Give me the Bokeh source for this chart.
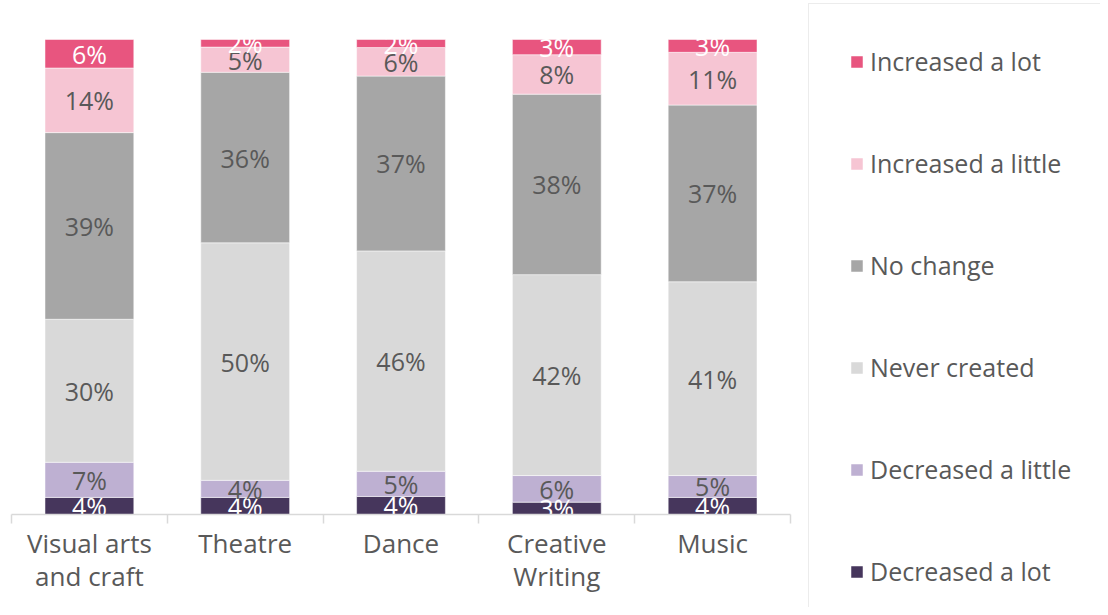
from bokeh.plotting import figure
from bokeh.models import ColumnDataSource, FixedTicker, Legend, LegendItem, Range1d
from bokeh.embed import file_html
from bokeh.resources import INLINE
from bokeh.core.properties import value

categories = ["Visual arts\nand craft", "Theatre", "Dance", "Creative\nWriting", "Music"]
series = ["Decreased a lot", "Decreased a little", "Never created",
          "No change", "Increased a little", "Increased a lot"]
decreased_a_lot = [3.6, 3.6, 3.8, 2.6, 3.6]
decreased_a_little = [7.4, 3.6, 5.3, 5.6, 4.6]
never_created = [30.1, 50.0, 46.4, 42.3, 40.8]
no_change = [39.3, 35.9, 36.8, 38.0, 37.2]
increased_a_little = [13.6, 5.3, 6.0, 8.3, 11.1]
increased_a_lot = [6.0, 1.6, 1.7, 3.2, 2.7]

colors = ["#46365C", "#BEB0D2", "#D9D9D9", "#A6A6A6", "#F6C5D3", "#E8557F"]
label_colors = ["white", "#595959", "#595959", "#595959", "#595959", "white"]
FONT = "Open Sans"

# layout (pixels)
W, H = 1100, 607
PLOT_L, PLOT_R, PLOT_T, PLOT_B = 11, 790, 39, 514

values = [decreased_a_lot, decreased_a_little, never_created,
          no_change, increased_a_little, increased_a_lot]
keys = ["s%d" % i for i in range(len(series))]
n = len(categories)
xs = [i + 0.5 for i in range(n)]

data = {"x": xs}
for k, v in zip(keys, values):
    data[k] = v
source = ColumnDataSource(data)

xpx = (PLOT_R - PLOT_L) / n
ypx = (PLOT_B - PLOT_T) / 100.0
x_range = Range1d(-PLOT_L / xpx, (W - PLOT_L) / xpx)
y_range = Range1d(-(H - PLOT_B) / ypx, 100 + PLOT_T / ypx)

p = figure(width=W, height=H, x_range=x_range, y_range=y_range,
           output_backend="svg", toolbar_location=None,
           y_axis_location=None, min_border=0)
p.outline_line_color = None
p.xgrid.visible = False
p.ygrid.visible = False

renderers = p.vbar_stack(keys, x="x", width=0.57, color=colors, source=source,
                         line_color="white", line_width=0.5)

# segment labels
lx, ly, lt, lc = [], [], [], []
for j in range(n):
    base = 0.0
    for i, v in enumerate(values):
        lx.append(xs[j])
        ly.append(base + v[j] / 2)
        lt.append("%d%%" % int(v[j] + 0.5))
        lc.append(label_colors[i])
        base += v[j]
lsrc = ColumnDataSource(dict(x=lx, y=ly, t=lt, c=lc))
p.text(x="x", y="y", text="t", text_color="c", source=lsrc,
       text_align="center", text_baseline="middle",
       text_font=value(FONT), text_font_size="25px")

ax = p.xaxis[0]
ax.fixed_location = 0
ax.bounds = (0, n)
ax.ticker = FixedTicker(ticks=xs, minor_ticks=list(range(n + 1)))
ax.major_label_overrides = {x: c for x, c in zip(xs, categories)}
ax.axis_line_color = "#D9D9D9"
ax.axis_line_width = 1.5
ax.major_tick_line_color = None
ax.major_tick_out = 0
ax.major_tick_in = 0
ax.minor_tick_line_color = "#D9D9D9"
ax.minor_tick_line_width = 1.5
ax.minor_tick_out = 9
ax.minor_tick_in = 0
ax.major_label_standoff = 1
ax.major_label_text_font = FONT
ax.major_label_text_font_size = "26px"
ax.major_label_text_color = "#595959"
ax.major_label_text_line_height = 0.92

items = [LegendItem(label=s, renderers=[r]) for s, r in zip(series, renderers)][::-1]
legend = Legend(items=items, location=(808, -22), padding=40, spacing=68, margin=0,
                glyph_width=15, glyph_height=15, label_standoff=6, label_height=28,
                label_text_font=FONT, label_text_font_size="25px",
                label_text_color="#595959", border_line_color="#D9D9D9",
                border_line_width=1.5, background_fill_color="white",
                background_fill_alpha=1.0)
p.add_layout(legend, "center")

open("out.html", "w").write(file_html(p, INLINE))
